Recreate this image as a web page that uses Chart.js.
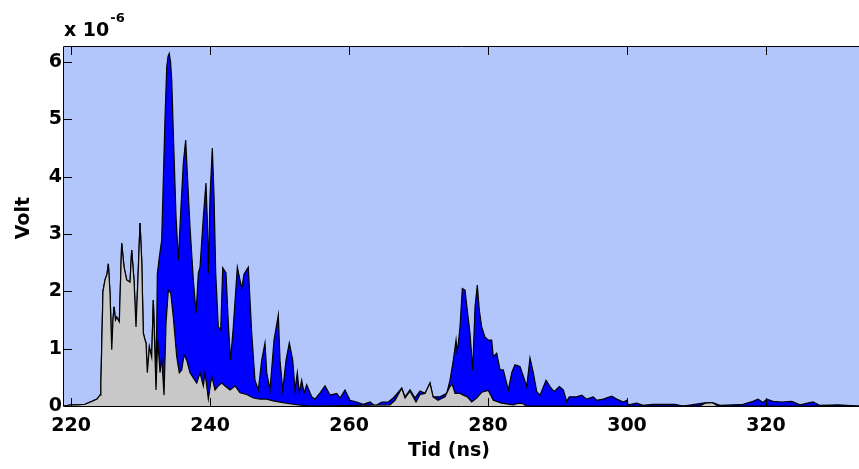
<!DOCTYPE html>
<html>
<head>
<meta charset="utf-8">
<script src="https://cdn.jsdelivr.net/npm/chart.js@4.4.1/dist/chart.umd.min.js"></script>
<style>
  html, body { margin: 0; padding: 0; background: #fff; }
  canvas { display: block; }
</style>
</head>
<body>
<canvas id="signalChart" width="859" height="469"></canvas>
<script>
// time axis in ns, voltage in units of 1e-6 V
const grayTime = [219.0, 220.0, 221.0, 222.0, 223.0, 223.74, 224.17, 224.3, 224.6, 224.89, 225.18, 225.37, 225.61, 225.86, 226.04, 226.19, 226.4, 226.58, 226.95, 227.29, 227.63, 228.01, 228.49, 228.73, 229.06, 229.35, 229.68, 229.93, 230.17, 230.4, 230.65, 230.79, 230.98, 231.27, 231.61, 231.84, 232.23, 232.47, 232.81, 233.05, 233.38, 233.67, 234.0, 234.35, 234.72, 235.21, 235.58, 235.93, 236.26, 236.65, 237.12, 237.6, 238.09, 238.56, 239.04, 239.28, 239.76, 240.24, 240.72, 241.19, 241.68, 242.16, 242.88, 243.6, 244.32, 245.28, 246.23, 247.19, 248.16, 249.06, 250.5, 251.94, 253.38, 254.82, 265.9, 266.62, 267.58, 268.06, 268.78, 269.64, 270.22, 270.94, 271.65, 272.09, 272.81, 273.81, 274.53, 274.86, 275.25, 275.97, 276.45, 277.02, 277.65, 278.37, 279.09, 280.04, 280.76, 281.97, 283.64, 284.36, 285.08, 285.47, 310.5, 311.22, 312.23, 313.09, 333.4];
const grayVolt = [0, 0.02, 0.02, 0.03, 0.08, 0.12, 0.19, 0.4, 2.0, 2.2, 2.3, 2.48, 1.97, 0.98, 1.5, 1.73, 1.5, 1.55, 1.47, 2.84, 2.42, 2.2, 2.16, 2.72, 2.2, 1.38, 2.37, 3.19, 2.55, 1.27, 1.15, 1.1, 0.58, 1.03, 0.85, 1.85, 0.28, 1.15, 0.58, 0.85, 0.19, 1.45, 2.02, 1.97, 1.55, 0.86, 0.58, 0.63, 0.89, 0.8, 0.58, 0.49, 0.4, 0.58, 0.35, 0.58, 0.12, 0.52, 0.28, 0.35, 0.4, 0.35, 0.28, 0.35, 0.23, 0.2, 0.14, 0.12, 0.12, 0.09, 0.06, 0.03, 0.01, 0, 0.02, 0.1, 0.31, 0.14, 0.26, 0.07, 0.2, 0.22, 0.4, 0.16, 0.1, 0.16, 0.34, 0.38, 0.22, 0.22, 0.19, 0.16, 0.07, 0.14, 0.24, 0.27, 0.1, 0.05, 0.02, 0.05, 0.04, 0, 0, 0.05, 0.06, 0, 0];

const blueTime = [219.0, 220.0, 221.0, 222.0, 223.0, 223.74, 224.17, 224.3, 224.6, 224.89, 225.18, 225.37, 225.61, 225.86, 226.04, 226.19, 226.4, 226.58, 226.95, 227.29, 227.63, 228.01, 228.49, 228.73, 229.06, 229.35, 229.68, 229.93, 230.17, 230.4, 230.65, 230.79, 230.98, 231.27, 231.61, 231.84, 232.09, 232.23, 232.42, 232.71, 233.05, 233.28, 233.53, 233.77, 233.96, 234.14, 234.32, 234.49, 234.72, 235.11, 235.44, 235.78, 236.16, 236.5, 236.73, 237.12, 237.6, 237.99, 238.32, 238.56, 239.04, 239.42, 239.61, 239.76, 240.0, 240.33, 240.58, 240.82, 241.19, 241.54, 241.83, 242.3, 242.63, 242.95, 243.35, 243.93, 244.56, 244.89, 245.51, 246.0, 246.47, 246.95, 247.44, 247.91, 248.16, 248.63, 249.21, 249.83, 250.07, 250.46, 250.94, 251.41, 251.9, 252.23, 252.56, 252.85, 253.19, 253.53, 253.91, 254.63, 255.11, 255.83, 256.55, 257.27, 258.23, 258.71, 259.42, 260.14, 261.11, 262.06, 263.02, 263.74, 264.71, 265.65, 266.37, 267.58, 268.06, 268.78, 269.5, 270.22, 270.94, 271.65, 272.09, 273.09, 274.06, 274.53, 275.01, 275.4, 275.58, 275.97, 276.3, 276.69, 277.02, 277.41, 277.8, 278.13, 278.46, 278.75, 279.09, 279.57, 280.04, 280.53, 280.76, 281.25, 281.73, 282.2, 282.92, 283.41, 283.88, 284.6, 285.08, 285.57, 286.04, 286.52, 287.01, 287.48, 288.35, 288.92, 289.5, 290.26, 290.83, 291.32, 291.7, 292.76, 293.48, 294.2, 295.15, 295.64, 296.59, 297.8, 298.52, 299.47, 299.96, 300.19, 301.4, 302.3, 303.74, 306.91, 308.06, 310.94, 311.94, 312.3, 313.38, 315.25, 316.69, 318.13, 318.85, 319.57, 320.1, 321.01, 322.26, 323.7, 324.89, 326.76, 327.77, 330.36, 333.4];
const blueVolt = [0, 0.02, 0.02, 0.03, 0.08, 0.12, 0.19, 0.4, 2.0, 2.2, 2.3, 2.48, 1.97, 0.98, 1.5, 1.73, 1.5, 1.55, 1.47, 2.84, 2.42, 2.2, 2.16, 2.72, 2.2, 1.38, 2.37, 3.19, 2.55, 1.27, 1.15, 1.1, 0.58, 1.03, 0.85, 1.85, 1.0, 0.4, 2.3, 2.6, 2.9, 3.94, 5.04, 5.91, 6.1, 6.15, 6.0, 5.69, 4.76, 3.3, 2.55, 3.37, 4.24, 4.64, 4.06, 3.12, 2.2, 1.62, 2.32, 2.42, 3.3, 3.89, 3.24, 2.32, 3.65, 4.5, 3.65, 2.32, 1.38, 1.33, 2.41, 2.32, 1.45, 0.8, 1.38, 2.42, 2.05, 2.3, 2.42, 1.27, 0.45, 0.28, 0.8, 1.1, 0.58, 0.28, 1.15, 1.59, 0.8, 0.28, 0.8, 1.1, 0.8, 0.28, 0.58, 0.23, 0.45, 0.23, 0.37, 0.16, 0.12, 0.23, 0.35, 0.19, 0.22, 0.14, 0.28, 0.1, 0.07, 0.03, 0.07, 0, 0.07, 0.07, 0.14, 0.31, 0.16, 0.28, 0.14, 0.26, 0.22, 0.4, 0.16, 0.16, 0.22, 0.45, 0.8, 1.15, 0.92, 1.38, 2.05, 2.02, 1.67, 1.27, 0.63, 1.73, 2.11, 1.67, 1.38, 1.2, 1.15, 1.15, 0.86, 0.92, 0.63, 0.63, 0.28, 0.58, 0.72, 0.69, 0.52, 0.34, 0.84, 0.58, 0.25, 0.19, 0.45, 0.34, 0.25, 0.34, 0.28, 0.08, 0.16, 0.16, 0.19, 0.12, 0.16, 0.1, 0.12, 0.17, 0.12, 0.07, 0.1, 0.02, 0.05, 0.01, 0.03, 0.03, 0, 0.05, 0.06, 0.06, 0.01, 0.02, 0.03, 0.08, 0.12, 0.06, 0.12, 0.08, 0.07, 0.08, 0.02, 0.07, 0.01, 0.02, 0];

const xTicks = [220, 240, 260, 280, 300, 320];
const yTicks = [0, 1, 2, 3, 4, 5, 6];

const FONT = '"DejaVu Sans", sans-serif';

function toPoints(times, volts) {
    return times.map((t, i) => ({ x: t, y: volts[i] }));
}

// light blue axes background, black frame and inward tick marks
const axesFrame = {
    id: 'axesFrame',
    beforeDatasetsDraw(chart) {
        const { ctx, chartArea: a } = chart;
        ctx.save();
        ctx.fillStyle = '#b2c6fb';
        ctx.fillRect(a.left, a.top, a.right - a.left, a.bottom - a.top);
        ctx.restore();
    },
    afterDatasetsDraw(chart) {
        const { ctx, chartArea: a, scales } = chart;
        ctx.save();
        ctx.strokeStyle = '#000';
        ctx.lineWidth = 1;
        ctx.beginPath();
        ctx.moveTo(a.right, a.top - 0.5);
        ctx.lineTo(a.left - 0.5, a.top - 0.5);
        ctx.lineTo(a.left - 0.5, a.bottom + 0.5);
        ctx.lineTo(a.right, a.bottom + 0.5);
        yTicks.forEach(v => {
            const y = Math.round(scales.y.getPixelForValue(v)) + 0.5;
            ctx.moveTo(a.left, y);
            ctx.lineTo(a.left + 8, y);
        });
        xTicks.forEach(t => {
            const x = Math.round(scales.x.getPixelForValue(t)) + 0.5;
            ctx.moveTo(x, a.bottom);
            ctx.lineTo(x, a.bottom - 8);
            ctx.moveTo(x, a.top);
            ctx.lineTo(x, a.top + 8);
        });
        ctx.stroke();
        ctx.restore();
    },
    afterDraw(chart) {
        const { ctx } = chart;
        ctx.save();
        ctx.fillStyle = '#000';
        ctx.font = 'bold 19px ' + FONT;
        ctx.textBaseline = 'alphabetic';

        // axis titles
        ctx.textAlign = 'center';
        ctx.fillText('Tid (ns)', 449, 456);
        ctx.save();
        ctx.translate(29, 218);
        ctx.rotate(-Math.PI / 2);
        ctx.fillText('Volt', 0, 0);
        ctx.restore();

        // exponent label above the y axis
        ctx.textAlign = 'left';
        const base = 'x 10';
        ctx.fillText(base, 64, 36);
        const w = ctx.measureText(base).width;
        ctx.font = 'bold 13px ' + FONT;
        ctx.fillText('-6', 64 + w + 1, 22);
        ctx.restore();
    }
};

const ctx = document.getElementById('signalChart').getContext('2d');
const signalChart = new Chart(ctx, {
    type: 'line',
    data: {
        datasets: [
            {
                label: 'gray',
                data: toPoints(grayTime, grayVolt),
                backgroundColor: '#c8c8c8',
                borderColor: '#000',
                borderWidth: 1.2,
                fill: 'origin',
                pointRadius: 0,
                tension: 0,
                order: 0
            },
            {
                label: 'blue',
                data: toPoints(blueTime, blueVolt),
                backgroundColor: '#0000ff',
                borderColor: '#000',
                borderWidth: 1.2,
                fill: 'origin',
                pointRadius: 0,
                tension: 0,
                order: 1
            }
        ]
    },
    options: {
        responsive: false,
        animation: false,
        devicePixelRatio: 1,
        layout: { padding: { top: 47, left: 0, right: 0, bottom: 0 } },
        plugins: {
            legend: { display: false },
            tooltip: { enabled: false }
        },
        scales: {
            x: {
                type: 'linear',
                min: 218.99,
                max: 333.38,
                grid: { display: false, drawTicks: false },
                border: { display: false },
                afterBuildTicks: scale => { scale.ticks = xTicks.map(v => ({ value: v })); },
                afterFit: scale => { scale.height = 63; },
                ticks: {
                    autoSkip: false,
                    maxRotation: 0,
                    padding: 9,
                    color: '#000',
                    font: { family: FONT, size: 19, weight: 'bold' }
                }
            },
            y: {
                min: 0,
                max: 6.262,
                grid: { display: false, drawTicks: false },
                border: { display: false },
                afterBuildTicks: scale => { scale.ticks = yTicks.map(v => ({ value: v })); },
                afterFit: scale => { scale.width = 64; },
                ticks: {
                    padding: 2,
                    color: '#000',
                    font: { family: FONT, size: 19, weight: 'bold' }
                }
            }
        }
    },
    plugins: [axesFrame]
});
</script>
</body>
</html>
